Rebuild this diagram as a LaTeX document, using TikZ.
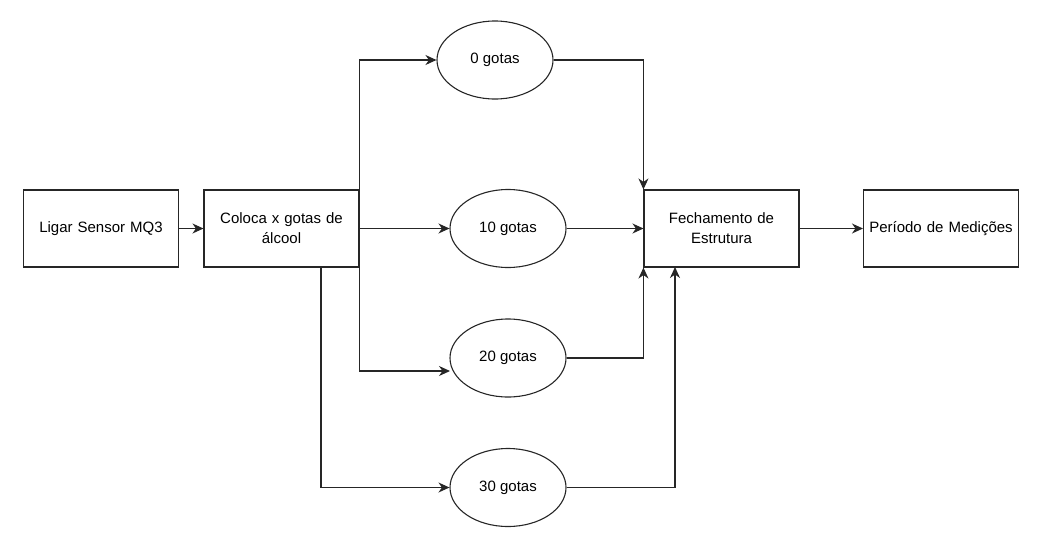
\documentclass[tikz,border=0pt]{standalone}
\usepackage{fontspec}
\setmainfont{Liberation Sans}
\usetikzlibrary{arrows.meta,shapes.geometric}
\begin{document}
\begin{tikzpicture}[x=1pt,y=-1pt,
  every node/.style={font=\fontsize{15}{20}\selectfont, text=black},
  box/.style={draw=black!85, line width=1.1pt, minimum width=155pt, minimum height=77pt, inner sep=2pt, align=center, text width=150pt},
  oval/.style={draw=black!85, line width=1.1pt, ellipse, minimum width=116pt, minimum height=78pt, inner sep=0pt},
  conn/.style={draw=black!85, line width=1.1pt, -{Stealth[length=11pt,width=10pt,inset=3.5pt]}}]
\useasboundingbox (0,0) rectangle (1051,552);
\node[box] (lig) at (101,228.5) {Ligar Sensor MQ3};
\node[box] (col) at (281.5,228.5) {Coloca x gotas de\\álcool};
\node[box] (fec) at (721.5,228.5) {Fechamento de\\Estrutura};
\node[box] (per) at (941,228.5) {Período de Medições};
\node[oval] (g0) at (495,60) {0 gotas};
\node[oval] (g10) at (508,228.5) {10 gotas};
\node[oval] (g20) at (508,358) {20 gotas};
\node[oval] (g30) at (508,487.5) {30 gotas};
\coordinate (g20in) at (450,371);
\coordinate (colb) at (321,267);
\coordinate (fecb) at (675,267);
\draw[conn] (lig.east) -- (col.west);
\draw[conn] (col.north east) |- (g0.west);
\draw[conn] (col.east) -- (g10.west);
\draw[conn] (col.south east) |- (g20in);
\draw[conn] (colb) |- (g30.west);
\draw[conn] (g0.east) -| (fec.north west);
\draw[conn] (g10.east) -- (fec.west);
\draw[conn] (g20.east) -| (fec.south west);
\draw[conn] (g30.east) -| (fecb);
\draw[conn] (fec.east) -- (per.west);
\end{tikzpicture}
\end{document}
